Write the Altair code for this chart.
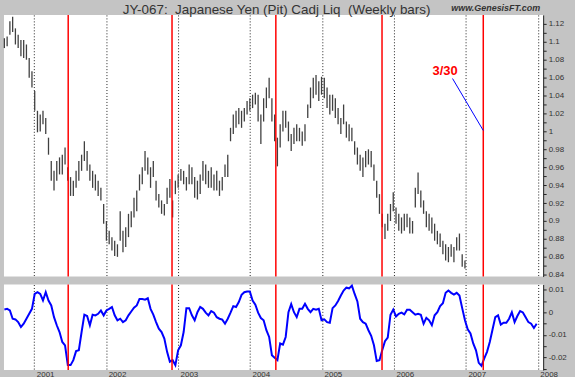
import altair as alt
import pandas as pd

# ---------------- data ----------------
start_date = "2000-08-02"   # first bar (two-week sampling)

price_high = [
    1.104, 1.106, 1.123, 1.128, 1.115, 1.108, 1.102, 1.102, 1.097, 1.082,
    1.067, 1.045, 1.023, 1.019, 1.023, 1.015, 0.993, 0.967, 0.956, 0.967,
    0.971, 0.974, 0.982, 0.960, 0.949, 0.945, 0.956, 0.967, 0.974, 0.989,
    0.978, 0.963, 0.956, 0.952, 0.945, 0.937, 0.919, 0.900, 0.889, 0.882,
    0.878, 0.874, 0.911, 0.889, 0.893, 0.908, 0.911, 0.926, 0.934, 0.952,
    0.960, 0.978, 0.971, 0.960, 0.967, 0.945, 0.930, 0.923, 0.919, 0.937,
    0.947, 0.923, 0.945, 0.952, 0.958, 0.956, 0.949, 0.963, 0.960, 0.949,
    0.945, 0.952, 0.967, 0.963, 0.956, 0.960, 0.952, 0.956, 0.945, 0.949,
    0.963, 0.974, 1.004, 1.019, 1.023, 1.026, 1.023, 1.026, 1.034, 1.037,
    1.041, 1.043, 1.041, 1.019, 1.037, 1.049, 1.060, 1.037, 1.019, 0.993,
    1.008, 1.023, 1.023, 1.011, 0.997, 1.004, 1.008, 1.004, 1.000, 1.008,
    1.030, 1.049, 1.060, 1.063, 1.056, 1.061, 1.060, 1.049, 1.041, 1.041,
    1.037, 1.026, 1.015, 1.030, 1.011, 1.008, 1.004, 0.989, 0.982, 0.974,
    0.971, 0.978, 0.980, 0.978, 0.963, 0.945, 0.930, 0.908, 0.897, 0.908,
    0.919, 0.932, 0.915, 0.908, 0.904, 0.908, 0.908, 0.904, 0.900, 0.937,
    0.954, 0.934, 0.923, 0.911, 0.908, 0.904, 0.897, 0.889, 0.886, 0.878,
    0.874, 0.871, 0.874, 0.871, 0.882, 0.886, 0.863, 0.856,
]

price_low = [
    1.093, 1.095, 1.108, 1.111, 1.097, 1.093, 1.084, 1.082, 1.080, 1.060,
    1.049, 1.023, 0.999, 1.000, 1.008, 0.997, 0.974, 0.945, 0.934, 0.945,
    0.952, 0.952, 0.963, 0.945, 0.928, 0.928, 0.937, 0.945, 0.956, 0.967,
    0.956, 0.945, 0.937, 0.934, 0.928, 0.923, 0.897, 0.878, 0.874, 0.867,
    0.861, 0.860, 0.878, 0.865, 0.871, 0.882, 0.893, 0.904, 0.911, 0.934,
    0.941, 0.956, 0.952, 0.937, 0.949, 0.923, 0.915, 0.908, 0.906, 0.919,
    0.926, 0.904, 0.930, 0.937, 0.945, 0.941, 0.934, 0.941, 0.941, 0.926,
    0.924, 0.930, 0.945, 0.941, 0.937, 0.937, 0.934, 0.934, 0.928, 0.934,
    0.949, 0.949, 0.989, 0.997, 1.004, 1.008, 1.004, 1.011, 1.019, 1.023,
    1.026, 1.030, 1.011, 0.986, 1.011, 1.026, 1.037, 1.011, 0.989, 0.961,
    0.982, 1.000, 1.004, 0.989, 0.978, 0.986, 0.989, 0.989, 0.984, 0.989,
    1.015, 1.026, 1.037, 1.041, 1.034, 1.041, 1.037, 1.026, 1.019, 1.023,
    1.015, 1.008, 0.997, 1.008, 0.993, 0.989, 0.989, 0.974, 0.963, 0.956,
    0.949, 0.960, 0.963, 0.960, 0.945, 0.926, 0.908, 0.893, 0.880, 0.889,
    0.900, 0.911, 0.897, 0.889, 0.886, 0.889, 0.893, 0.886, 0.886, 0.915,
    0.930, 0.915, 0.908, 0.893, 0.889, 0.886, 0.878, 0.874, 0.871, 0.863,
    0.856, 0.854, 0.860, 0.854, 0.867, 0.867, 0.849, 0.847,
]

osc_values = [
    0.0013, 0.0016, 0.0009, -0.0028, -0.0031, -0.0043, -0.0065, -0.0050, -0.0028, -0.0006,
    0.0016, 0.0082, 0.0090, 0.0082, 0.0053, 0.0090, 0.0053, 0.0031, -0.0021, -0.0057,
    -0.0087, -0.0131, -0.0146, -0.0234, -0.0234, -0.0212, -0.0172, -0.0168, -0.0087, -0.0010,
    -0.0016, -0.0057, -0.0010, -0.0013, -0.0006, 0.0009, -0.0013, 0.0009, 0.0016, 0.0024,
    -0.0013, -0.0035, -0.0028, -0.0043, -0.0035, -0.0013, 0.0004, 0.0021, 0.0031, 0.0060,
    0.0060, 0.0057, 0.0063, 0.0016, -0.0010, -0.0043, -0.0072, -0.0087, -0.0116, -0.0175,
    -0.0219, -0.0212, -0.0234, -0.0168, -0.0146, -0.0087, 0.0019, 0.0019, -0.0013, -0.0035,
    0.0001, 0.0024, 0.0016, -0.0001, -0.0013, 0.0006, -0.0001, -0.0021, -0.0028, -0.0032,
    -0.0050, -0.0028, -0.0001, 0.0028, 0.0024, 0.0046, 0.0078, 0.0090, 0.0093, 0.0093,
    0.0053, 0.0034, -0.0001, -0.0025, -0.0035, -0.0079, -0.0109, -0.0190, -0.0201, -0.0212,
    -0.0138, -0.0143, -0.0109, 0.0001, 0.0037, 0.0001, -0.0021, 0.0016, 0.0016, 0.0038,
    0.0016, 0.0001, 0.0016, 0.0012, 0.0016, -0.0035, -0.0031, -0.0043, -0.0046, 0.0019,
    0.0031, 0.0051, 0.0075, 0.0097, 0.0110, 0.0107, 0.0119, 0.0082, 0.0049, -0.0028,
    -0.0043, -0.0050, -0.0079, -0.0104, -0.0146, -0.0216, -0.0212, -0.0168, -0.0128, -0.0112,
    -0.0010, 0.0013, -0.0018, -0.0006, -0.0001, -0.0009, 0.0012, 0.0012, 0.0001, -0.0010,
    -0.0006, -0.0010, -0.0050, -0.0024, -0.0035, -0.0057, -0.0013, 0.0001, 0.0028, 0.0041,
    0.0087, 0.0097, 0.0087, 0.0079, 0.0087, 0.0075, 0.0019, -0.0035, -0.0075, -0.0093,
    -0.0138, -0.0168, -0.0224, -0.0237, -0.0204, -0.0175, -0.0131, -0.0076, -0.0021, -0.0013,
    -0.0054, -0.0046, -0.0046, -0.0028, 0.0001, -0.0043, -0.0016, 0.0006, 0.0000, -0.0021,
    -0.0043, -0.0050, -0.0069, -0.0050,
]

red_dates = ["2001-06-22", "2002-12-01", "2004-05-11", "2005-11-01", "2007-03-30"]

note_text = ["3/30"]
note_date = ["2006-09-17"]
note_value = [1.067]
pointer_dates = ["2006-10-25", "2007-03-30"]
pointer_values = [1.059, 1.001]

NB = "\u00a0"
title_text = "JY-067:" + NB + " Japanese Yen (Pit) Cadj Liq" + NB + " (Weekly bars)"
site_text = "www.GenesisFT.com"

# tick positions (labels on every other one)
upper_ticks = [round(0.84 + 0.01 * i, 2) for i in range(29)]
lower_ticks = [-0.025, -0.02, -0.015, -0.01, -0.005, 0.0, 0.005, 0.01]
year_ticks = [alt.DateTime(year=y, month=1, date=1) for y in range(2001, 2009)]

# ---------------- tables ----------------
price_df = pd.DataFrame({
    "date": pd.date_range(start_date, periods=len(price_high), freq="14D").strftime("%Y-%m-%d"),
    "high": price_high,
    "low": price_low,
})
osc_df = pd.DataFrame({
    "date": pd.date_range(start_date, periods=len(osc_values), freq="14D").strftime("%Y-%m-%d"),
    "osc": osc_values,
})
red_df = pd.DataFrame({"date": red_dates})
note_df = pd.DataFrame({"date": note_date, "v": note_value, "t": note_text})
pointer_df = pd.DataFrame({"d1": [pointer_dates[0]], "d2": [pointer_dates[1]],
                           "v1": [pointer_values[0]], "v2": [pointer_values[1]]})

FONT = "Liberation Sans"
W = 542
x_scale = alt.Scale(domain=[alt.DateTime(year=2000, month=7, date=31),
                            alt.DateTime(year=2008, month=1, date=28)])
y_scale_top = alt.Scale(domain=[0.838, 1.13], nice=False, zero=False)
y_scale_bottom = alt.Scale(domain=[-0.0256, 0.0124], nice=False, zero=False)

x_axis_top = alt.Axis(title=None, labels=False, ticks=False, domain=False, grid=True,
                      gridDash=[1, 2], gridColor="#222222", gridOpacity=1, values=year_ticks)
x_axis_bottom = alt.Axis(title=None, labels=True, ticks=False, domain=False, grid=True,
                         gridDash=[1, 2], gridColor="#222222", gridOpacity=1, values=year_ticks,
                         format="%Y", labelAlign="left", labelOffset=2, labelFlush=False,
                         labelFontSize=8, labelFont=FONT, labelColor="#333333",
                         labelPadding=0, labelBaseline="top", labelOverlap=False)

up_label = ("round(datum.value*100) % 2 == 0 ? "
            "replace(format(datum.value, '.2~f'), '\u2212', '-') : ''")
low_label = ("abs(round(datum.value*1000)) % 10 == 0 ? "
             "replace(format(datum.value, '.2~f'), '\u2212', '-') : ''")

y_axis_top = alt.Axis(title=None, orient="right", values=upper_ticks, labelExpr=up_label,
                      grid=False, tickSize=3, tickColor="#222222", domainColor="#222222",
                      labelFontSize=8, labelFont=FONT, labelColor="#333333", labelPadding=2,
                      labelOverlap=False, labelFlush=False)
y_axis_bottom = alt.Axis(title=None, orient="right", values=lower_ticks, labelExpr=low_label,
                         grid=False, tickSize=3, tickColor="#222222", domainColor="#222222",
                         labelFontSize=8, labelFont=FONT, labelColor="#333333", labelPadding=2,
                         labelOverlap=False, labelFlush=False)

# ---------------- upper panel ----------------
bars = alt.Chart(price_df).mark_rule(color="#404040", strokeWidth=1.3).encode(
    x=alt.X("date:T", scale=x_scale, axis=x_axis_top),
    y=alt.Y("low:Q", scale=y_scale_top, axis=y_axis_top),
    y2="high:Q",
)
red_top = alt.Chart(red_df).mark_rule(color="#ff0000", strokeWidth=1.5).encode(
    x=alt.X("date:T", scale=x_scale, axis=x_axis_top),
)
pointer = alt.Chart(pointer_df).mark_rule(color="#0000ff", strokeWidth=1).encode(
    x=alt.X("d1:T", scale=x_scale, axis=x_axis_top), x2="d2:T",
    y=alt.Y("v1:Q", scale=y_scale_top, axis=y_axis_top), y2="v2:Q",
)
note = alt.Chart(note_df).mark_text(color="#ff0000", fontSize=13, fontWeight="bold",
                                    font=FONT).encode(
    x=alt.X("date:T", scale=x_scale, axis=x_axis_top),
    y=alt.Y("v:Q", scale=y_scale_top, axis=y_axis_top),
    text="t:N",
)
title_mark = alt.Chart(pd.DataFrame({"t": [title_text]})).mark_text(
    fontSize=13.5, font=FONT, color="#333333", align="center", baseline="top"
).encode(x=alt.value(274), y=alt.value(-12), text="t:N")
site_mark = alt.Chart(pd.DataFrame({"t": [site_text]})).mark_text(
    fontSize=9, font=FONT, fontStyle="italic", fontWeight="bold", color="#333333",
    align="right", baseline="top"
).encode(x=alt.value(539), y=alt.value(-11), text="t:N")

upper = alt.layer(bars, red_top, pointer, note, title_mark, site_mark).properties(
    width=W, height=263)

# ---------------- lower panel ----------------
osc_line = alt.Chart(osc_df).mark_line(color="#0000ff", strokeWidth=2).encode(
    x=alt.X("date:T", scale=x_scale, axis=x_axis_bottom),
    y=alt.Y("osc:Q", scale=y_scale_bottom, axis=y_axis_bottom),
)
red_bottom = alt.Chart(red_df).mark_rule(color="#ff0000", strokeWidth=1.5).encode(
    x=alt.X("date:T", scale=x_scale, axis=x_axis_bottom),
)
lower = alt.layer(osc_line, red_bottom).properties(width=W, height=86)

chart = alt.vconcat(upper, lower, spacing=2).properties(
    background="#c4c4c4",
    padding={"left": 0, "top": 2, "right": 8, "bottom": 3},
).configure_view(strokeWidth=0, fill="white").configure_axis(labelOverlap=False)

chart.save("out.html", embed_options={"renderer": "svg", "actions": False})
